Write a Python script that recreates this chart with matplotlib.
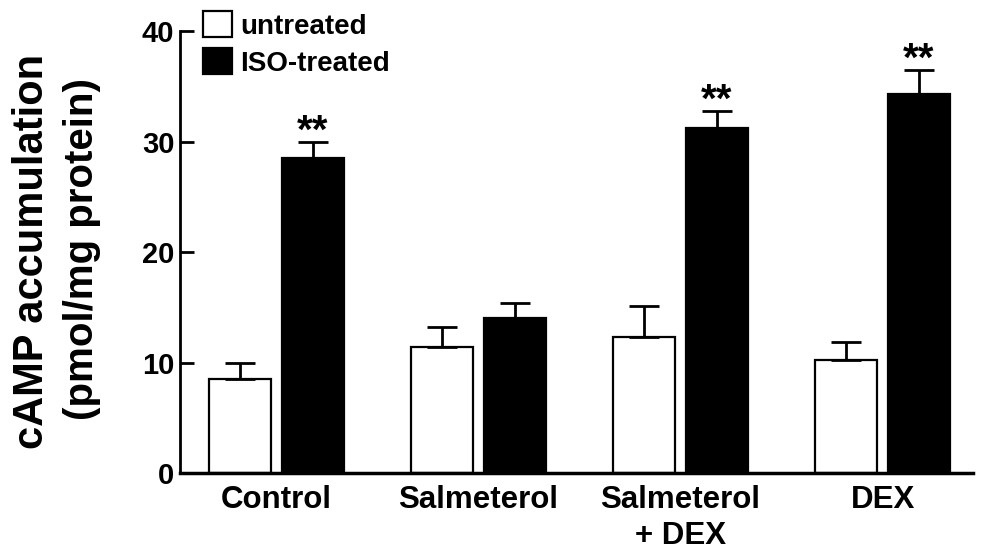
import matplotlib
matplotlib.use("Agg")
import matplotlib.pyplot as plt
from matplotlib.patches import Patch
import numpy as np

categories = ["Control", "Salmeterol", "Salmeterol\n+ DEX", "DEX"]
untreated = [8.5, 11.45, 12.35, 10.25]
untreated_err = [1.5, 1.75, 2.75, 1.6]
iso_treated = [28.55, 14.1, 31.2, 34.35]
iso_err = [1.45, 1.3, 1.6, 2.15]
significance = ["**", "", "**", "**"]
series_names = ["untreated", "ISO-treated"]
y_ticks = [0, 10, 20, 30, 40]

plt.rcParams['font.family'] = ['Liberation Sans', 'DejaVu Sans']
plt.rcParams['font.weight'] = 'bold'

fig = plt.figure(figsize=(9.93, 5.51), dpi=100)
ax = fig.add_axes([0.1813, 0.1407, 0.98 - 0.1813, 0.9437 - 0.1407])

x = np.arange(len(categories))
w = 0.307
off = 0.18
lw = 1.6

ax.bar(x - off, untreated, width=w, color='white', edgecolor='black', linewidth=lw, zorder=2)
ax.bar(x + off, iso_treated, width=w, color='black', edgecolor='black', linewidth=lw, zorder=2)

ax.errorbar(x - off, untreated, yerr=[np.zeros(len(x)), untreated_err], fmt='none',
            ecolor='black', elinewidth=2, capsize=10.5, capthick=2, zorder=3)
ax.errorbar(x + off, iso_treated, yerr=[np.zeros(len(x)), iso_err], fmt='none',
            ecolor='black', elinewidth=2, capsize=10.5, capthick=2, zorder=3)

for xi, v, e, s in zip(x + off, iso_treated, iso_err, significance):
    if s:
        ax.text(xi, v + e - 0.1, s, ha='center', va='baseline', fontsize=29, fontweight='bold')

ax.set_xlim(-0.478, 3.448)
ax.set_ylim(0, 40)
ax.set_yticks(y_ticks)
ax.set_yticklabels([str(t) for t in y_ticks], fontsize=21, fontweight='bold')
ax.set_xticks(x)
ax.set_xticklabels(categories, fontsize=22.5, fontweight='bold', linespacing=1.3)
ax.tick_params(axis='y', direction='in', length=10, width=2, pad=4)
ax.tick_params(axis='x', length=0, pad=8)

for s in ['top', 'right']:
    ax.spines[s].set_visible(False)
ax.spines['left'].set_linewidth(2)
ax.spines['bottom'].set_linewidth(2.5)

fig.text(32 / 993, 0.5445, "cAMP accumulation", rotation=90, ha='center', va='center',
         fontsize=30, fontweight='bold')
fig.text(82 / 993, 0.549, "(pmol/mg protein)", rotation=90, ha='center', va='center',
         fontsize=29, fontweight='bold')

handles = [Patch(facecolor='white', edgecolor='black', linewidth=lw),
           Patch(facecolor='black', edgecolor='black', linewidth=lw)]
leg = fig.legend(handles, series_names, loc='upper left', bbox_to_anchor=(0.2044, 0.98),
                 frameon=False, fontsize=20, handlelength=1.05, handleheight=1.08,
                 handletextpad=0.3, labelspacing=0.3, borderpad=0, borderaxespad=0)
for t in leg.get_texts():
    t.set_fontweight('bold')

fig.savefig("out.png", dpi=100)
